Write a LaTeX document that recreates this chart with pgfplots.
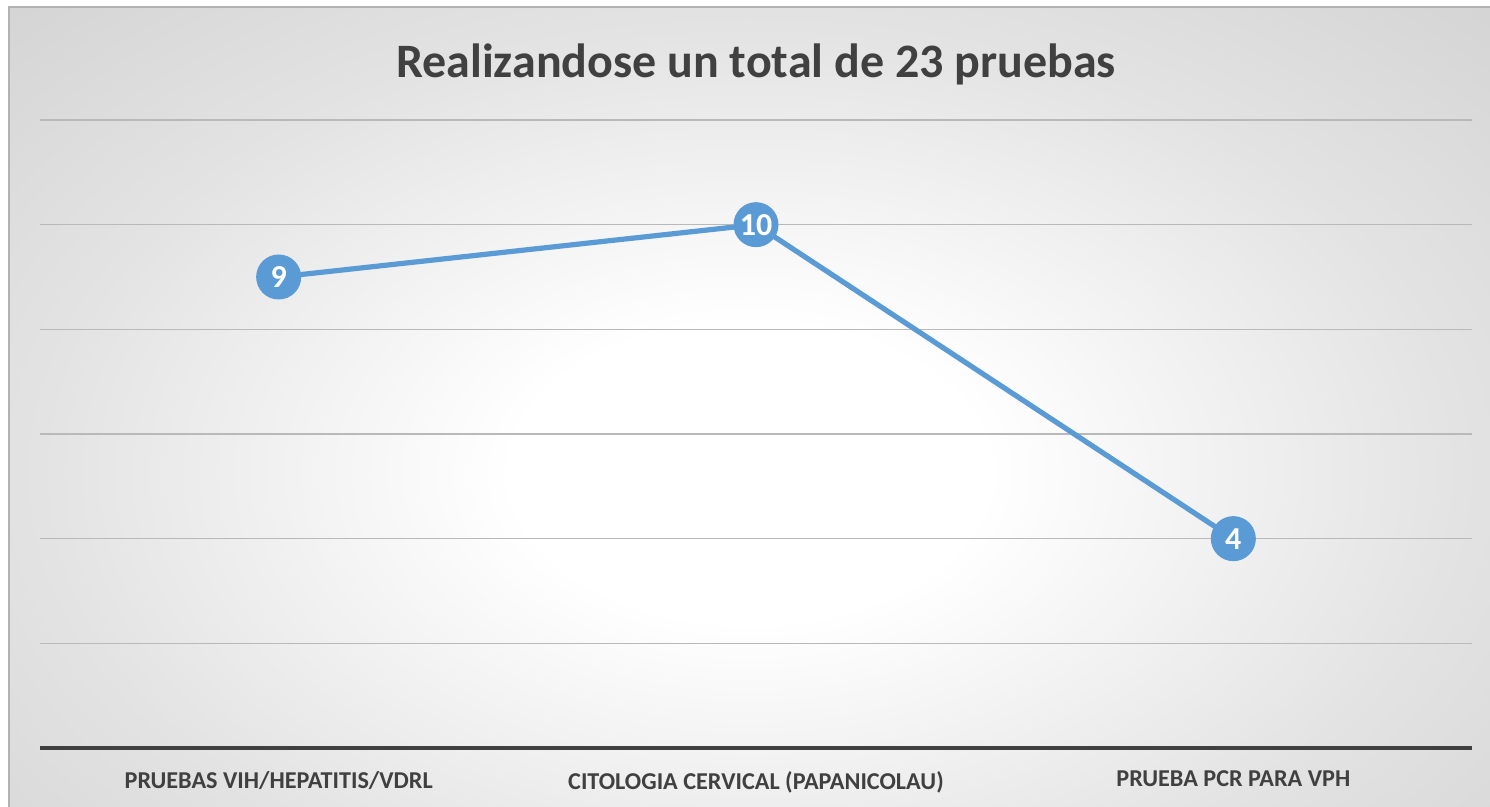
\documentclass[border=0pt]{standalone}
\usepackage{pgfplots}
\pgfplotsset{compat=1.18}
\usepackage{fontspec}
\setmainfont{Carlito}
\definecolor{serie}{HTML}{5B9BD5}
\definecolor{texto}{HTML}{404040}
\definecolor{borde}{HTML}{BEBEBE}
\pgfdeclareradialshading{fondo}{\pgfpoint{0bp}{0bp}}{%
  color(0bp)=(white); color(8bp)=(white); color(24bp)=(black!11);
  color(38bp)=(black!18); color(50bp)=(black!22); color(71bp)=(borde); color(80bp)=(borde)}

\begin{document}
\begin{tikzpicture}[x=1pt, y=1pt]
% page and chart frame (1px = 0.5pt, plot origin at px (40,748))
\useasboundingbox (-20,-29.5) rectangle (725,374);
\fill[white] (-20,-29.5) rectangle (725,374);
\begin{scope}
\clip (-15.5,-29.5) rectangle (725,370.5);
\shade[shading=fondo] (-15.5,-95) rectangle (725,370.5);
\end{scope}
\draw[gray!60, line width=0.6pt] (-15.5,-29.5) -- (-15.5,370.5) -- (725,370.5);

\begin{axis}[
    scale only axis,
    width=716pt, height=314pt,
    xmin=-0.5, xmax=2.5,
    ymin=0, ymax=12,
    xtick={0,1,2},
    xticklabels={PRUEBAS VIH/HEPATITIS/VDRL, CITOLOGIA CERVICAL (PAPANICOLAU), PRUEBA PCR PARA VPH},
    ytick={2,4,...,12},
    yticklabels={},
    ymajorgrids,
    grid style={gray!55, line width=0.6pt},
    axis x line*=bottom,
    axis y line*=left,
    y axis line style={draw=none},
    x axis line style={texto, line width=2pt, -},
    major tick length=0pt,
    xticklabel style={font=\fontsize{12.1}{14}\selectfont\bfseries, text=texto, yshift=-8pt},
    /pgf/number format/assume math mode=true,
    clip=false,
]
\addplot[serie, line width=2.6pt, mark=*, mark size=11pt,
    mark options={fill=serie, draw=serie, line width=0.5pt},
    nodes near coords,
    every node near coord/.append style={anchor=center, text=white,
        font=\fontsize{16}{18}\selectfont\bfseries}]
    coordinates {(0,9) (1,10) (2,4)};
\end{axis}

\node[font=\fontsize{24}{29}\selectfont\bfseries, text=texto] at (358,342) {Realizandose un total de 23 pruebas};
\end{tikzpicture}
\end{document}
